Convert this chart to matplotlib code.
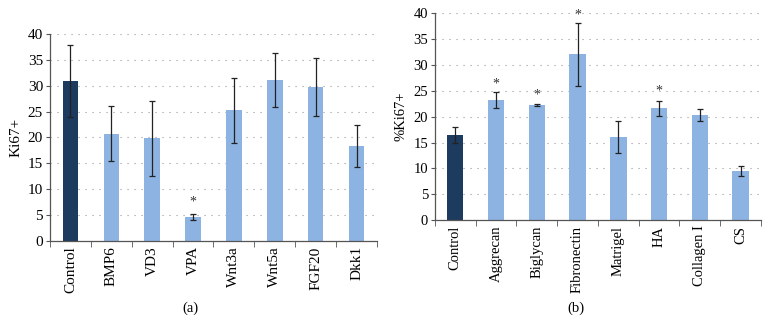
import matplotlib
matplotlib.use("Agg")
import matplotlib.pyplot as plt
import numpy as np

plt.rcParams['font.family'] = ['Liberation Serif', 'DejaVu Serif']

cats_a = ["Control", "BMP6", "VD3", "VPA", "Wnt3a", "Wnt5a", "FGF20", "Dkk1"]
vals_a = [30.9, 20.7, 19.8, 4.6, 25.2, 31.1, 29.7, 18.3]
errs_a = [7.0, 5.3, 7.3, 0.6, 6.2, 5.2, 5.6, 4.1]
stars_a = {3: 7.4}

cats_b = ["Control", "Aggrecan", "Biglycan", "Fibronectin", "Matrigel", "HA", "Collagen I", "CS"]
vals_b = [16.5, 23.2, 22.3, 32.1, 16.1, 21.6, 20.3, 9.5]
errs_b = [1.5, 1.6, 0.15, 6.1, 3.1, 1.45, 1.15, 0.9]
stars_b = {1: 26.4, 2: 24.2, 3: 39.7, 5: 24.9}

dark = "#1d3a5f"
light = "#8db3e2"

fig = plt.figure(figsize=(7.7, 3.34), dpi=100)
ax_a = fig.add_axes([0.0649, 0.2793, 0.4247, 0.6189])
ax_b = fig.add_axes([0.5649, 0.3413, 0.4234, 0.6188])

def draw(ax, cats, vals, errs, stars, ylabel, width, fs):
    x = np.arange(len(cats))
    colors = [dark] + [light] * (len(cats) - 1)
    ax.bar(x, vals, width=width, color=colors, zorder=2)
    ax.errorbar(x, vals, yerr=errs, fmt='none', ecolor='#222222',
                elinewidth=0.9, capsize=2.5, capthick=0.9, zorder=3)
    for i, yv in stars.items():
        ax.text(i, yv, "*", ha='center', va='center', fontsize=10, color='#333333')
    ax.set_xlim(-0.5, len(cats) - 0.5)
    ax.set_ylim(0, 40)
    ax.set_yticks(np.arange(0, 41, 5))
    ax.set_xticks(x)
    ax.set_xticklabels(cats, rotation=90, fontsize=fs)
    ax.tick_params(axis='x', length=0, pad=4)
    ax.set_xticks(np.arange(-0.5, len(cats), 1), minor=True)
    ax.tick_params(axis='x', which='minor', length=4, color='#555555', direction='out')
    ax.tick_params(axis='y', labelsize=fs, length=3, color='#555555', pad=2)
    ax.yaxis.grid(True, linestyle=(0, (1, 5.3)), color='#999999', linewidth=0.8, zorder=0)
    ax.set_axisbelow(True)
    for s in ['top', 'right']:
        ax.spines[s].set_visible(False)
    for s in ['left', 'bottom']:
        ax.spines[s].set_color('#555555')
        ax.spines[s].set_linewidth(0.9)
    ax.set_ylabel(ylabel, fontsize=fs, labelpad=4)

draw(ax_a, cats_a, vals_a, errs_a, stars_a, "Ki67+", 0.38, 11)
draw(ax_b, cats_b, vals_b, errs_b, stars_b, "%Ki67+", 0.4, 10.5)

fig.text(190 / 770, 1 - 308 / 334, "(a)", ha='center', va='center', fontsize=10.5)
fig.text(576 / 770, 1 - 308 / 334, "(b)", ha='center', va='center', fontsize=10.5)

fig.savefig("out.png", dpi=100)
